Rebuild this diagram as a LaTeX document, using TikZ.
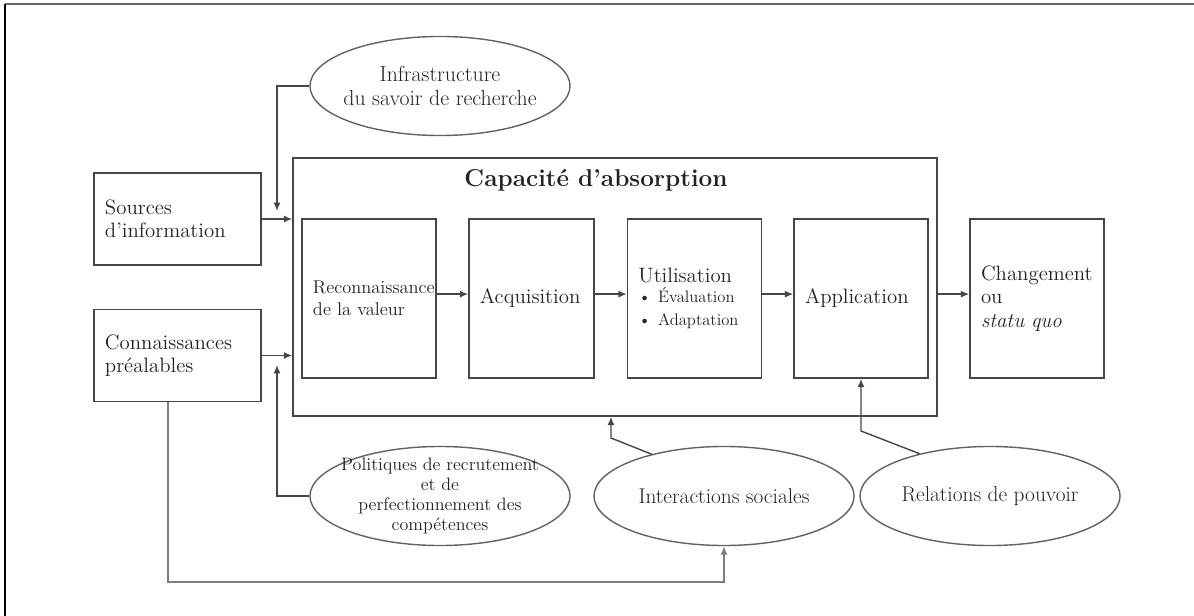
\documentclass[tikz,border=0pt]{standalone}
\usepackage{tikz}
\usetikzlibrary{shapes.geometric, arrows.meta, positioning, fit}
\definecolor{primary}{RGB}{70,70,70}
\definecolor{ink}{RGB}{34,34,34}

\begin{document}
\begin{tikzpicture}[x=0.025cm, y=-0.025cm,
  every node/.style={text=ink, font=\fontsize{14.8}{16.5}\selectfont},
  stage/.style={rectangle, draw=primary, line width=1pt, align=left,
    inner xsep=0.275cm, text width=#1, minimum height=3.975cm},
  side/.style={rectangle, draw=primary, line width=1pt, align=left,
    inner xsep=0.275cm, text width=3.625cm, minimum height=2.3cm},
  oval/.style={ellipse, draw=primary!85, line width=1pt, minimum width=6.5cm,
    minimum height=2.475cm, align=center, inner xsep=-5pt, inner ysep=0pt},
  arrow/.style={-{Latex[length=6pt,width=5pt]}, line width=1pt, primary}
]
\useasboundingbox (0,0) rectangle (1194,616);

% Frame
\draw[line width=1.6pt, black!60] (5,4) -- (1194,4);
\draw[line width=1pt, black] (5,4) -- (5,616);

% Inputs
\node[side] at (177.5,219) (src) {Sources\\d’information};
\node[side] at (177.5,355.5) (prior) {Connaissances\\préalables};

% Absorptive capacity
\node[draw=primary, line width=1pt, fit={(293,158) (937,416)}, inner sep=0pt] (cap) {};
\node[font=\fontsize{17.3}{20}\selectfont\bfseries] at (596,180) (title) {Capacité d’absorption};

\node[stage=2.8cm, font=\fontsize{13.1}{15.5}\selectfont] at (369,298.5) (reco) {Reconnaissance\\de la valeur};
\node[stage=2.575cm] at (531.5,298.5) (acq) {Acquisition};
\node[stage=2.8cm] at (694.5,298.5) (util) {Utilisation\\
  \fontsize{11.8}{14}\selectfont\textbullet~Évaluation\\\textbullet~Adaptation};
\node[stage=2.8cm] at (861,298.5) (app) {Application};
\node[stage=2.8cm] at (1037,298.5) (chg) {Changement\\ou\\\textit{statu quo}};

% Moderators
\node[oval, font=\fontsize{15.5}{16.5}\selectfont] at (440,86) (infra) {Infrastructure\\du savoir de recherche};
\node[oval, inner ysep=-5pt, font=\fontsize{12.8}{14}\selectfont] at (440,496) (policy)
  {Politiques de recrutement\\et de\\perfectionnement des\\compétences};
\node[oval, font=\fontsize{15.2}{16.5}\selectfont] at (724,496) (social) {Interactions sociales};
\node[oval, font=\fontsize{15.2}{16.5}\selectfont] at (990,496) (power) {Relations de pouvoir};

% Arrows into the capacity box
\coordinate (infraIn) at (277,211);
\coordinate (policyIn) at (277,365);
\draw[arrow] (infra.west) -| (infraIn);
\draw[arrow] (policy.west) -| (policyIn);
\draw[arrow] (src.east) -- (src.east -| cap.west);
\draw[arrow] (prior.east) -- (prior.east -| cap.west);

% Stage sequence
\foreach \a/\b in {reco/acq, acq/util, util/app}
  \draw[arrow] ([yshift=1.1mm]\a.east) -- ([yshift=1.1mm]\b.west);
\draw[arrow] ([yshift=1.1mm]chg.west -| cap.east) -- ([yshift=1.1mm]chg.west);

% Feedback and influences
\coordinate (low) at (0,582);
\coordinate (kink1) at (611,438);
\coordinate (kink2) at (862,431);
\draw[arrow, primary!70] ([xshift=-0.24cm]prior.south) |- (social.south |- low) -- (social.south);
\draw[arrow] (social.150) -- (kink1) -- (kink1 |- cap.south);
\draw[arrow] (power.149) -- (app.south |- kink2) -- (app.south);

\end{tikzpicture}
\end{document}
